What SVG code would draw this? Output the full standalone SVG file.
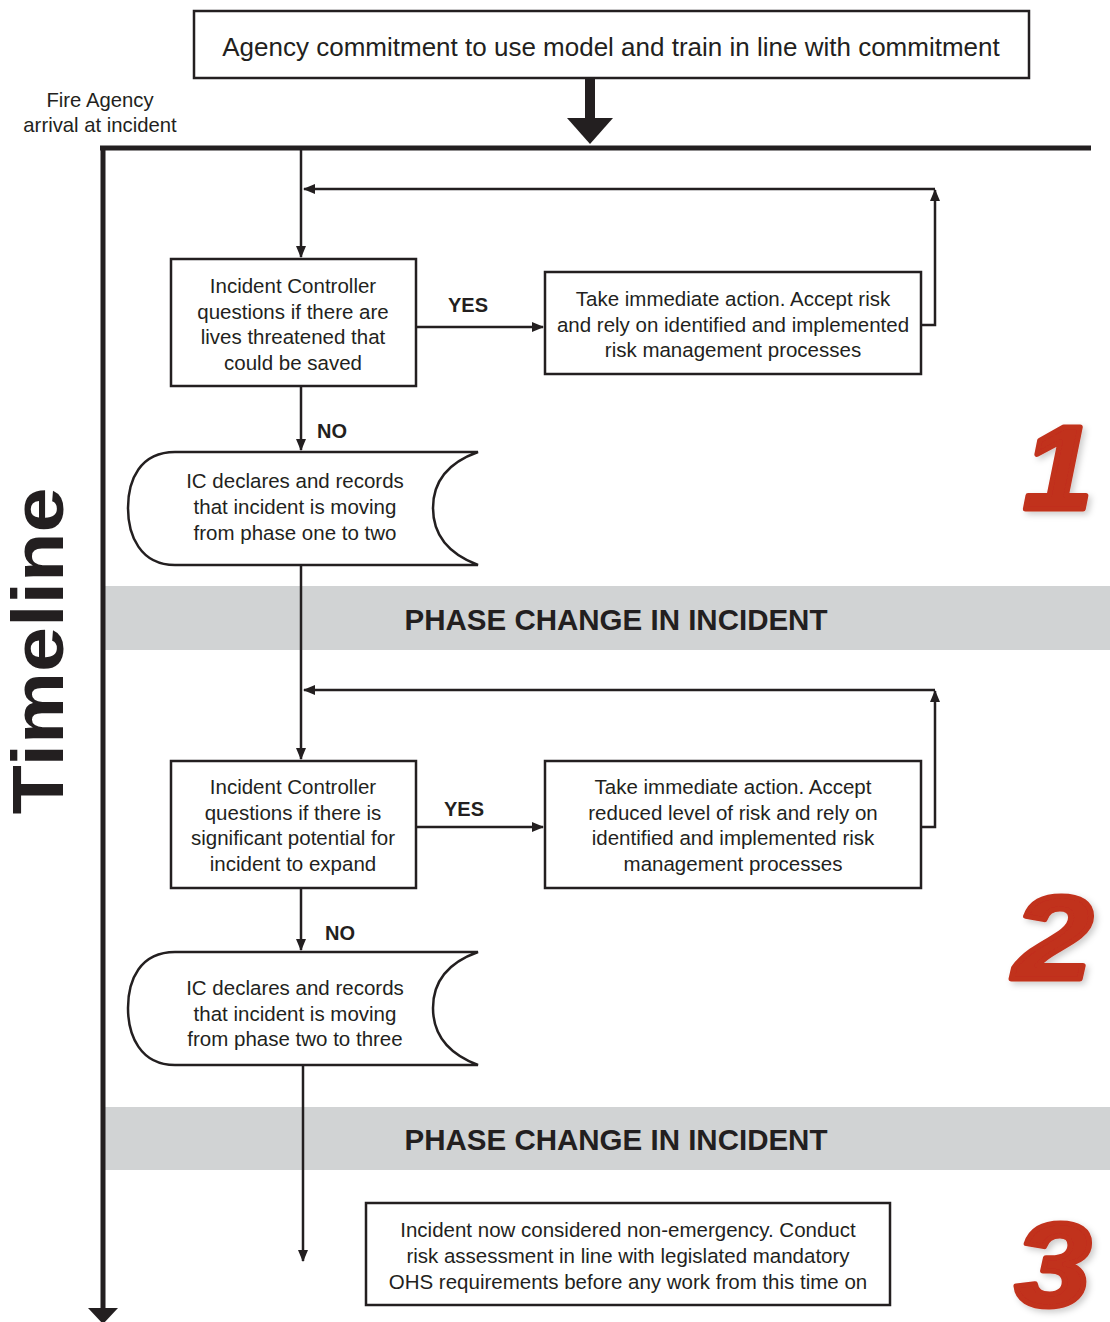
<svg xmlns="http://www.w3.org/2000/svg" width="1110" height="1322" viewBox="0 0 1110 1322">
<style>
.box{fill:#fff;stroke:#231f20;stroke-width:2.5}
.t{font-family:"Liberation Sans",Arial,sans-serif;font-size:20.5px;fill:#231f20;text-anchor:middle}
.t24{font-size:26px}
.t19{font-size:20.3px}
.b{font-family:"Liberation Sans",Arial,sans-serif;font-weight:bold;fill:#231f20}
.lbl{font-size:20px;text-anchor:middle}
.ph{font-size:29.5px;text-anchor:middle}
.ln{fill:none;stroke:#231f20;stroke-width:2.5}
.band{fill:#d1d3d4}
.num{font-family:"Liberation Sans",Arial,sans-serif;font-weight:bold;font-style:italic;font-size:118px;fill:#c1301c;stroke:#c1301c;stroke-width:5;stroke-linejoin:round;text-anchor:middle}
</style>
<defs>
<marker id="ah" markerWidth="12" markerHeight="10" refX="11" refY="5" orient="auto" markerUnits="userSpaceOnUse" viewBox="0 0 12 10">
<path d="M0,0 L12,5 L0,10 Z" fill="#231f20"/>
</marker>
<filter id="sh" x="-20%" y="-20%" width="150%" height="150%">
<feDropShadow dx="3" dy="3" stdDeviation="3" flood-color="#000" flood-opacity="0.2"/>
</filter>
</defs>

<g id="bands">
<rect class="band" x="105" y="586" width="1005" height="64"/>
<text class="b ph" x="616" y="630">PHASE CHANGE IN INCIDENT</text>
<rect class="band" x="105" y="1107" width="1005" height="63"/>
<text class="b ph" x="616" y="1150">PHASE CHANGE IN INCIDENT</text>
</g>

<g id="timeline">
<line x1="100" y1="148" x2="1091" y2="148" stroke="#231f20" stroke-width="5"/>
<line x1="103" y1="148" x2="103" y2="1310" stroke="#231f20" stroke-width="5"/>
<path d="M88,1308 L118,1308 L103,1324 Z" fill="#231f20"/>
<text class="b" transform="translate(63,651) rotate(-90)" font-size="72" text-anchor="middle" textLength="327" lengthAdjust="spacingAndGlyphs">Timeline</text>
<text class="t t19" x="100" y="107">Fire Agency</text>
<text class="t t19" x="100" y="132">arrival at incident</text>
</g>

<g id="commitment">
<rect class="box" x="194" y="11" width="835" height="67"/>
<text class="t t24" x="611" y="56">Agency commitment to use model and train in line with commitment</text>
</g>

<g id="connectors">
<rect x="585" y="78" width="10" height="42" fill="#231f20"/>
<path d="M567,118 L613,118 L590,144 Z" fill="#231f20"/>
<line class="ln" x1="301" y1="148" x2="301" y2="257" marker-end="url(#ah)"/>
<polyline class="ln" points="921,325 935,325 935,190" marker-end="url(#ah)"/>
<line class="ln" x1="935" y1="189" x2="304" y2="189" marker-end="url(#ah)"/>
<line class="ln" x1="416" y1="327" x2="543" y2="327" marker-end="url(#ah)"/>
<line class="ln" x1="301" y1="386" x2="301" y2="450" marker-end="url(#ah)"/>
<line class="ln" x1="301" y1="565" x2="301" y2="759" marker-end="url(#ah)"/>
<polyline class="ln" points="921,827 935,827 935,691" marker-end="url(#ah)"/>
<line class="ln" x1="935" y1="690" x2="304" y2="690" marker-end="url(#ah)"/>
<line class="ln" x1="416" y1="827" x2="543" y2="827" marker-end="url(#ah)"/>
<line class="ln" x1="301" y1="888" x2="301" y2="950" marker-end="url(#ah)"/>
<line class="ln" x1="303" y1="1065" x2="303" y2="1261" marker-end="url(#ah)"/>
<text class="b lbl" x="468" y="312">YES</text>
<text class="b lbl" x="332" y="438">NO</text>
<text class="b lbl" x="464" y="816">YES</text>
<text class="b lbl" x="340" y="940">NO</text>
</g>

<g id="q1">
<rect class="box" x="171" y="259" width="245" height="127"/>
<text class="t" x="293" y="293">Incident Controller</text>
<text class="t" x="293" y="319">questions if there are</text>
<text class="t" x="293" y="344">lives threatened that</text>
<text class="t" x="293" y="370">could be saved</text>
</g>

<g id="a1">
<rect class="box" x="545" y="272" width="376" height="102"/>
<text class="t" x="733" y="306">Take immediate action. Accept risk</text>
<text class="t" x="733" y="332">and rely on identified and implemented</text>
<text class="t" x="733" y="357">risk management processes</text>
</g>

<g id="d1">
<path class="box" d="M175,452 L478,452 Q433,468 433,508 Q433,548 478,565 L175,565 C140,565 128,535 128,508 C128,480 140,452 175,452 Z"/>
<text class="t" x="295" y="488">IC declares and records</text>
<text class="t" x="295" y="514">that incident is moving</text>
<text class="t" x="295" y="540">from phase one to two</text>
</g>

<g id="q2">
<rect class="box" x="171" y="761" width="245" height="127"/>
<text class="t" x="293" y="794">Incident Controller</text>
<text class="t" x="293" y="820">questions if there is</text>
<text class="t" x="293" y="845">significant potential for</text>
<text class="t" x="293" y="871">incident to expand</text>
</g>

<g id="a2">
<rect class="box" x="545" y="761" width="376" height="127"/>
<text class="t" x="733" y="794">Take immediate action. Accept</text>
<text class="t" x="733" y="820">reduced level of risk and rely on</text>
<text class="t" x="733" y="845">identified and implemented risk</text>
<text class="t" x="733" y="871">management processes</text>
</g>

<g id="d2">
<path class="box" d="M175,952 L478,952 Q433,968 433,1008 Q433,1048 478,1065 L175,1065 C140,1065 128,1035 128,1008 C128,980 140,952 175,952 Z"/>
<text class="t" x="295" y="995">IC declares and records</text>
<text class="t" x="295" y="1021">that incident is moving</text>
<text class="t" x="295" y="1046">from phase two to three</text>
</g>

<g id="p3">
<rect class="box" x="366" y="1203" width="524" height="102"/>
<text class="t" x="628" y="1237">Incident now considered non-emergency. Conduct</text>
<text class="t" x="628" y="1263">risk assessment in line with legislated mandatory</text>
<text class="t" x="628" y="1289">OHS requirements before any work from this time on</text>
</g>

<g id="numbers" filter="url(#sh)">
<text class="num" transform="translate(1058,509) scale(1.05,1)">1</text>
<text class="num" transform="translate(1053,979) scale(1.2,1)">2</text>
<text class="num" transform="translate(1053,1306) scale(1.15,1)">3</text>
</g>
</svg>
